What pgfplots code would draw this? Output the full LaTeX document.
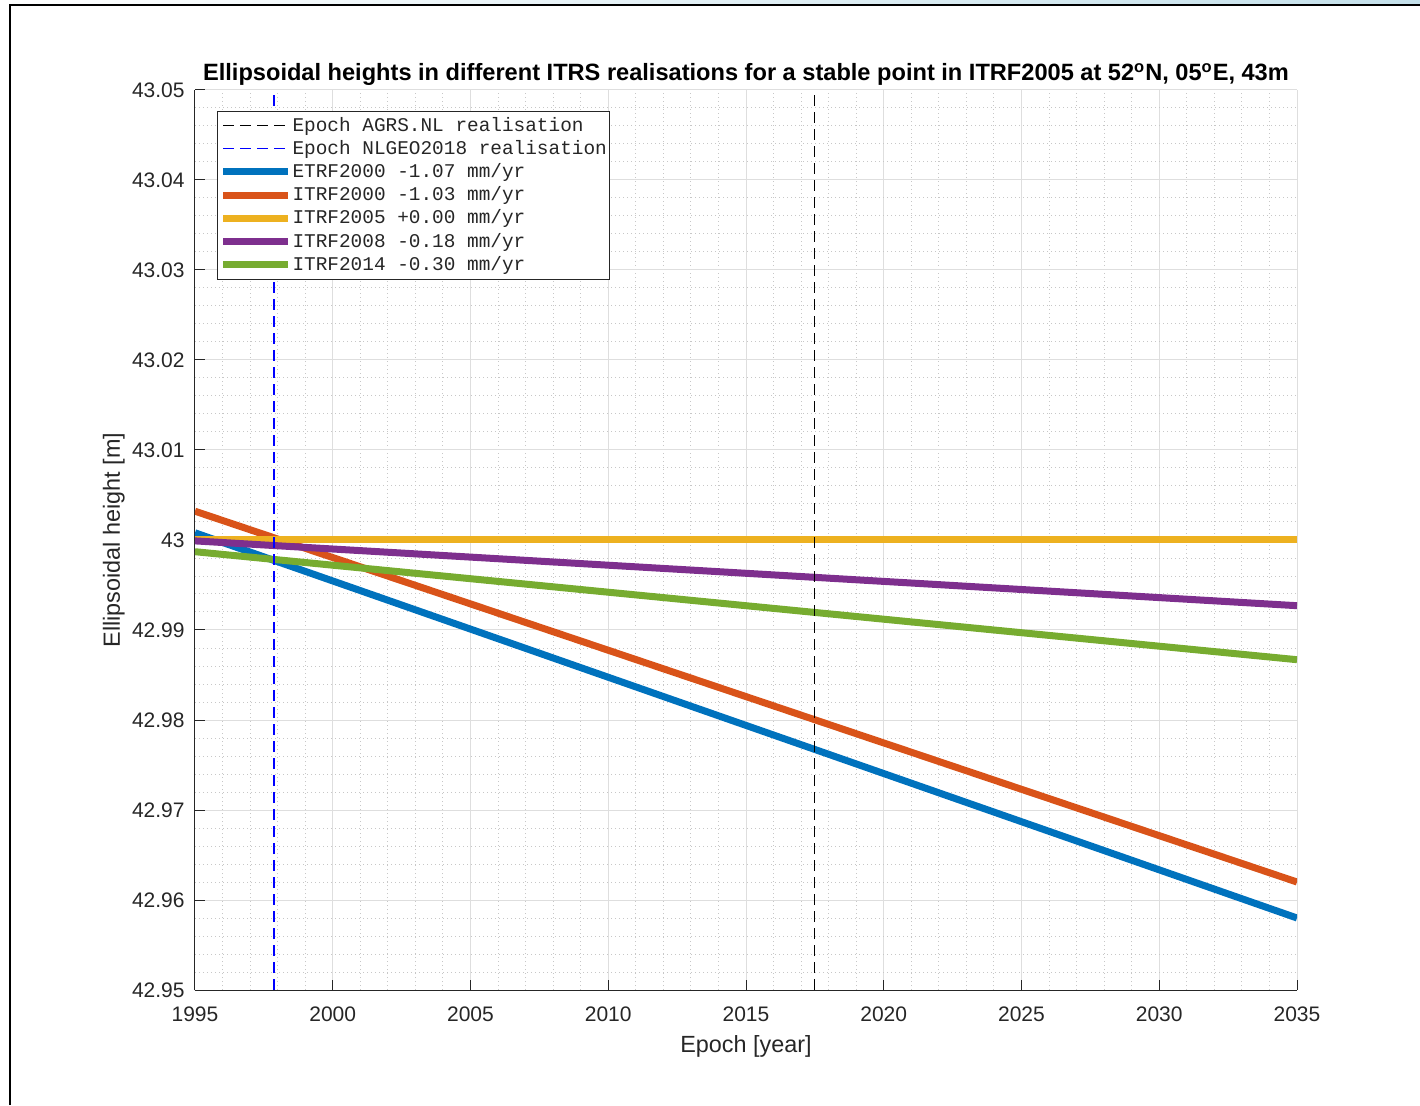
\documentclass[border=0pt]{standalone}
\usepackage{fontspec}
\setmainfont{Liberation Sans}
\newfontfamily\legfont{Liberation Mono}
\usepackage{pgfplots}
\pgfplotsset{compat=1.18}

% MATLAB default line colours
\definecolor{mblue}{rgb}{0,0.447,0.741}
\definecolor{morange}{rgb}{0.850,0.325,0.098}
\definecolor{myellow}{rgb}{0.929,0.694,0.125}
\definecolor{mpurple}{rgb}{0.494,0.184,0.556}
\definecolor{mgreen}{rgb}{0.466,0.674,0.188}
\definecolor{axgray}{rgb}{0.15,0.15,0.15}
\definecolor{gridmaj}{rgb}{0.87,0.87,0.87}
\definecolor{gridmin}{rgb}{0.78,0.78,0.78}
\definecolor{topblue}{RGB}{196,224,234}

\begin{document}
\begin{tikzpicture}[x=0.5pt,y=0.5pt]
\path[use as bounding box] (0,0) rectangle (1420,1105);
\shade[left color=white,right color=topblue] (0,1100) rectangle (1420,1105);
\draw[line width=1pt] (10,0) -- (10,1100) -- (1420,1100);
\begin{axis}[
  at={(97.5pt,57.5pt)}, anchor=south west,
  scale only axis, width=551pt, height=450pt,
  xmin=1995, xmax=2035, ymin=42.95, ymax=43.05,
  xtick={1995,2000,...,2035},
  ytick={42.95,42.96,42.97,42.98,42.99,43,43.01,43.02,43.03,43.04,43.05},
  scaled ticks=false,
  /pgf/number format/1000 sep={},
  /pgf/number format/assume math mode=true,
  axis x line*=bottom, axis y line*=left,
  x axis line style={-}, y axis line style={-},
  axis line style={axgray, line width=0.5pt},
  tick align=inside, major tick length=5pt, minor tick length=0pt,
  tick style={axgray, line width=0.5pt},
  minor tick num=4,
  grid=both,
  major grid style={gridmaj, line width=0.5pt},
  minor grid style={gridmin, line width=0.5pt, dash pattern=on 0.5pt off 1.5pt},
  ticklabel style={font=\fontsize{10.5}{12}\selectfont, text=axgray},
  xticklabel style={anchor=base, yshift=-15.5pt},
  yticklabel style={anchor=east, inner sep=0pt, xshift=-5pt},
  title={Ellipsoidal heights in different ITRS realisations for a stable point in ITRF2005 at 52\textsuperscript{o}N, 05\textsuperscript{o}E, 43m},
  title style={font=\fontsize{11.8}{14}\selectfont\bfseries, anchor=base,
    at={(axis description cs:0.5,1)}, yshift=-1.5pt},
  xlabel={Epoch [year]},
  ylabel={Ellipsoidal height [m]},
  label style={font=\fontsize{11.7}{14}\selectfont, text=axgray},
  xlabel style={at={(axis description cs:0.5,-0.0689)}, anchor=base},
  ylabel style={at={(axis description cs:-0.0681,0.5)}, anchor=base},
  legend style={at={(axis description cs:0.02,0.977)}, anchor=north west,
    draw=axgray, line width=0.5pt, fill=white,
    font=\legfont\fontsize{9.7}{11.6}\selectfont, text=axgray,
    inner xsep=1pt, inner ysep=1.4pt,
    nodes={inner xsep=0.5pt, inner ysep=0.8pt, text height=7.8pt, text depth=2.2pt}},
  legend cell align=left,
  legend image code/.code={\draw[#1] (0pt,0pt) -- (32.5pt,0pt);},
]
\addlegendimage{black, line width=0.5pt, dash pattern=on 5.5pt off 3pt}
\addlegendentry{Epoch AGRS.NL realisation}
\addlegendimage{blue, line width=0.6pt, dash pattern=on 5.5pt off 3pt}
\addlegendentry{Epoch NLGEO2018 realisation}

\addplot[mblue, line width=3.5pt] coordinates {(1995,43.0008) (2035,42.9580)};
\addlegendentry{ETRF2000 -1.07 mm/yr}
\addplot[morange, line width=3.5pt] coordinates {(1995,43.0032) (2035,42.9620)};
\addlegendentry{ITRF2000 -1.03 mm/yr}
\addplot[myellow, line width=3.5pt] coordinates {(1995,43.0000) (2035,43.0000)};
\addlegendentry{ITRF2005 +0.00 mm/yr}
\addplot[mpurple, line width=3.5pt] coordinates {(1995,42.9999) (2035,42.9927)};
\addlegendentry{ITRF2008 -0.18 mm/yr}
\addplot[mgreen, line width=3.5pt] coordinates {(1995,42.9987) (2035,42.9867)};
\addlegendentry{ITRF2014 -0.30 mm/yr}

% realisation epochs, drawn on top
\addplot[black, line width=0.5pt, dash pattern=on 5.5pt off 3pt, forget plot]
  coordinates {(2017.5,42.95) (2017.5,43.05)};
\addplot[blue, line width=1pt, dash pattern=on 5.5pt off 3pt, forget plot]
  coordinates {(1997.85,42.95) (1997.85,43.05)};
\end{axis}
\end{tikzpicture}
\end{document}
